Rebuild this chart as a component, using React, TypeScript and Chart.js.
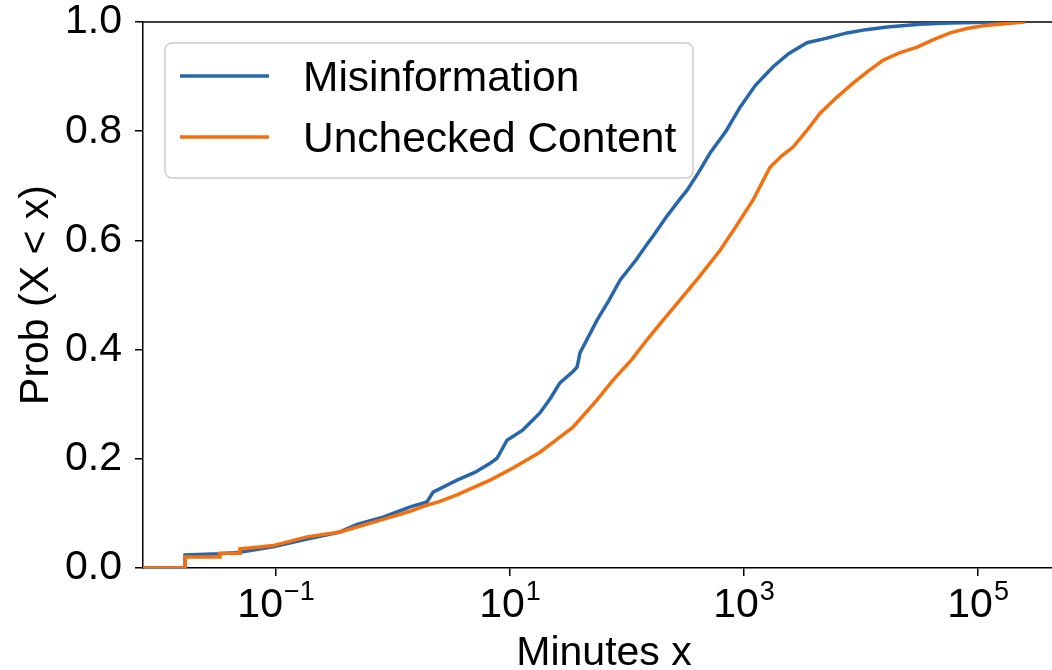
import React, { useEffect, useRef } from "react";
import { Chart, registerables } from "chart.js";

Chart.register(...registerables);

// ---- data ----
const seriesLabels = ["Misinformation", "Unchecked Content"];

const misinfoMinutes = [
  0.0073, 0.0167, 0.0167, 0.033, 0.0492, 0.0942, 0.184, 0.352, 0.492, 0.822,
  1.4, 1.95, 2.2, 3.52, 5.0, 6.75, 7.74, 9.42, 12.9, 18.0, 22, 26.7, 34.5,
  37.4, 39.6, 55.4, 70, 87.1, 120, 148, 167, 220, 284, 326, 410, 512, 700, 925,
  1250, 1770, 2400, 3451, 5000, 7590, 11000, 16680, 31900, 57700, 150000,
];
const misinfoProb = [
  0, 0, 0.024, 0.026, 0.029, 0.039, 0.053, 0.066, 0.08, 0.093, 0.112, 0.121,
  0.139, 0.161, 0.175, 0.192, 0.201, 0.234, 0.253, 0.284, 0.31, 0.339, 0.36,
  0.368, 0.394, 0.454, 0.49, 0.527, 0.565, 0.593, 0.608, 0.645, 0.676, 0.692,
  0.725, 0.76, 0.8, 0.844, 0.884, 0.918, 0.942, 0.962, 0.97, 0.98, 0.986,
  0.991, 0.996, 0.998, 1.0,
];

const uncheckedMinutes = [
  0.0073, 0.0167, 0.0167, 0.0332, 0.0332, 0.0492, 0.0492, 0.0688, 0.0942,
  0.184, 0.352, 0.492, 0.822, 1.4, 1.95, 2.52, 3.52, 6.75, 10.6, 18.0, 25,
  34.5, 55.4, 75.9, 110, 148, 200, 284, 420, 624, 850, 1194, 1450, 1667, 2100,
  2624, 3400, 4467, 6200, 8550, 11500, 15400, 21000, 30100, 42000, 57700,
  80000, 110000, 170000, 252000,
];
const uncheckedProb = [
  0, 0, 0.02, 0.02, 0.027, 0.027, 0.035, 0.038, 0.041, 0.057, 0.066, 0.075,
  0.089, 0.104, 0.115, 0.122, 0.134, 0.161, 0.183, 0.212, 0.235, 0.258, 0.308,
  0.344, 0.382, 0.418, 0.452, 0.491, 0.535, 0.582, 0.625, 0.674, 0.709, 0.734,
  0.755, 0.771, 0.8, 0.833, 0.862, 0.888, 0.91, 0.93, 0.943, 0.954, 0.968,
  0.98, 0.988, 0.993, 0.997, 1.0,
];

const xTickValues = [0.1, 10, 1000, 100000];
const xTickExponents = ["\u22121", "1", "3", "5"];
const yTickValues = [0, 0.2, 0.4, 0.6, 0.8, 1.0];
const xTitle = "Minutes x";
const yTitle = "Prob (X < x)";

const X_MIN = 0.007296;
const X_MAX = 553000;

// ---- styles ----
const FONT = "'Liberation Sans', Arial, Helvetica, sans-serif";
const BASE_SIZE = 41;
const LEGEND_SIZE = 42.5;
const SUP_SIZE = 27;
const BLUE = "#2866ab";
const ORANGE = "#f4700f";
const LINE_W = 3.5;
const CANVAS_W = 1080;
const CANVAS_H = 670;

const decorPlugin = {
  id: "decor",
  beforeDatasetsDraw(chart: any) {
    const { ctx, chartArea } = chart;
    ctx.save();
    ctx.strokeStyle = "#000";
    ctx.lineWidth = 1.5;
    ctx.beginPath();
    ctx.moveTo(chartArea.left, chartArea.top);
    ctx.lineTo(chartArea.right, chartArea.top);
    ctx.lineTo(chartArea.right, chartArea.bottom);
    ctx.stroke();
    ctx.restore();
  },
  afterDraw(chart: any) {
    const { ctx, chartArea } = chart;
    const { left, right, top, bottom } = chartArea;
    const xs = chart.scales.x;
    ctx.save();
    ctx.fillStyle = "#000";
    ctx.textAlign = "left";
    ctx.textBaseline = "alphabetic";
    const baseFont = `${BASE_SIZE}px ${FONT}`;
    const supFont = `${SUP_SIZE}px ${FONT}`;
    xTickValues.forEach((v, i) => {
      const px = xs.getPixelForValue(v);
      const exp = xTickExponents[i];
      ctx.font = baseFont;
      const w1 = ctx.measureText("10").width;
      ctx.font = supFont;
      const w2 = ctx.measureText(exp).width;
      const start = px - (w1 + w2 + 1) / 2;
      ctx.font = baseFont;
      ctx.fillText("10", start, bottom + 49);
      ctx.font = supFont;
      ctx.fillText(exp, start + w1 + 1, bottom + 32);
    });
    // x title
    ctx.font = baseFont;
    ctx.textAlign = "center";
    ctx.fillText(xTitle, (left + right) / 2, bottom + 97);
    // y title
    ctx.save();
    ctx.translate(48, (top + bottom) / 2);
    ctx.rotate(-Math.PI / 2);
    ctx.fillText(yTitle, 0, 0);
    ctx.restore();

    // legend
    const bx = 165, by = 43, bw = 528, bh = 135, r = 7;
    ctx.beginPath();
    ctx.moveTo(bx + r, by);
    ctx.lineTo(bx + bw - r, by);
    ctx.arcTo(bx + bw, by, bx + bw, by + r, r);
    ctx.lineTo(bx + bw, by + bh - r);
    ctx.arcTo(bx + bw, by + bh, bx + bw - r, by + bh, r);
    ctx.lineTo(bx + r, by + bh);
    ctx.arcTo(bx, by + bh, bx, by + bh - r, r);
    ctx.lineTo(bx, by + r);
    ctx.arcTo(bx, by, bx + r, by, r);
    ctx.closePath();
    ctx.fillStyle = "rgba(255,255,255,0.8)";
    ctx.fill();
    ctx.strokeStyle = "#cccccc";
    ctx.lineWidth = 1.5;
    ctx.stroke();

    const colors = [BLUE, ORANGE];
    const rows = [76, 137];
    seriesLabels.forEach((lab, i) => {
      const y = rows[i];
      ctx.strokeStyle = colors[i];
      ctx.lineWidth = LINE_W;
      ctx.beginPath();
      ctx.moveTo(180, y);
      ctx.lineTo(269, y);
      ctx.stroke();
      ctx.fillStyle = "#000";
      ctx.font = `${LEGEND_SIZE}px ${FONT}`;
      ctx.textAlign = "left";
      ctx.textBaseline = "alphabetic";
      ctx.fillText(lab, 303, y + 15);
    });
    ctx.restore();
  },
};

export default function App() {
  const ref = useRef<HTMLCanvasElement | null>(null);
  useEffect(() => {
    if (!ref.current) return;
    const mk = (xs: number[], ys: number[]) => xs.map((x, i) => ({ x, y: ys[i] }));
    const chart = new Chart(ref.current, {
      type: "line",
      data: {
        datasets: [
          {
            label: seriesLabels[0],
            data: mk(misinfoMinutes, misinfoProb),
            borderColor: BLUE,
            backgroundColor: BLUE,
            borderWidth: LINE_W,
            pointRadius: 0,
            tension: 0,
            fill: false,
            order: 1,
          },
          {
            label: seriesLabels[1],
            data: mk(uncheckedMinutes, uncheckedProb),
            borderColor: ORANGE,
            backgroundColor: ORANGE,
            borderWidth: LINE_W,
            pointRadius: 0,
            tension: 0,
            fill: false,
            order: 0,
          },
        ],
      },
      options: {
        animation: false,
        responsive: false,
        devicePixelRatio: 1,
        layout: { padding: { top: 22, right: CANVAS_W - 1065, left: 0, bottom: 0 } },
        plugins: { legend: { display: false }, tooltip: { enabled: false } },
        scales: {
          x: {
            type: "logarithmic",
            min: X_MIN,
            max: X_MAX,
            afterBuildTicks: (s: any) => {
              s.ticks = xTickValues.map((v) => ({ value: v }));
            },
            afterFit: (s: any) => {
              s.height = CANVAS_H - 568;
              s.paddingLeft = 0;
              s.paddingRight = 0;
              s.paddingTop = 0;
              s.paddingBottom = 0;
            },
            ticks: { display: false },
            grid: {
              display: true,
              drawOnChartArea: false,
              drawTicks: true,
              tickLength: 8,
              color: "#000",
              lineWidth: 1.5,
            },
            border: { display: true, color: "#000", width: 1.5 },
          },
          y: {
            type: "linear",
            min: 0,
            max: 1,
            afterBuildTicks: (s: any) => {
              s.ticks = yTickValues.map((v) => ({ value: v }));
            },
            afterFit: (s: any) => {
              s.width = 143;
              s.paddingLeft = 0;
              s.paddingRight = 0;
              s.paddingTop = 0;
              s.paddingBottom = 0;
            },
            ticks: {
              callback: (v: any) => Number(v).toFixed(1),
              font: { family: FONT, size: BASE_SIZE },
              color: "#000",
              padding: 13,
            },
            grid: {
              display: true,
              drawOnChartArea: false,
              drawTicks: true,
              tickLength: 8,
              color: "#000",
              lineWidth: 1.5,
            },
            border: { display: true, color: "#000", width: 1.5 },
          },
        },
      },
      plugins: [decorPlugin],
    });
    return () => chart.destroy();
  }, []);

  return (
    <div
      style={{
        position: "fixed",
        left: 0,
        top: 0,
        width: 1052,
        height: 670,
        overflow: "hidden",
        background: "#fff",
      }}
    >
      <canvas
        ref={ref}
        width={CANVAS_W}
        height={CANVAS_H}
        style={{ display: "block", width: CANVAS_W, height: CANVAS_H }}
      />
    </div>
  );
}
